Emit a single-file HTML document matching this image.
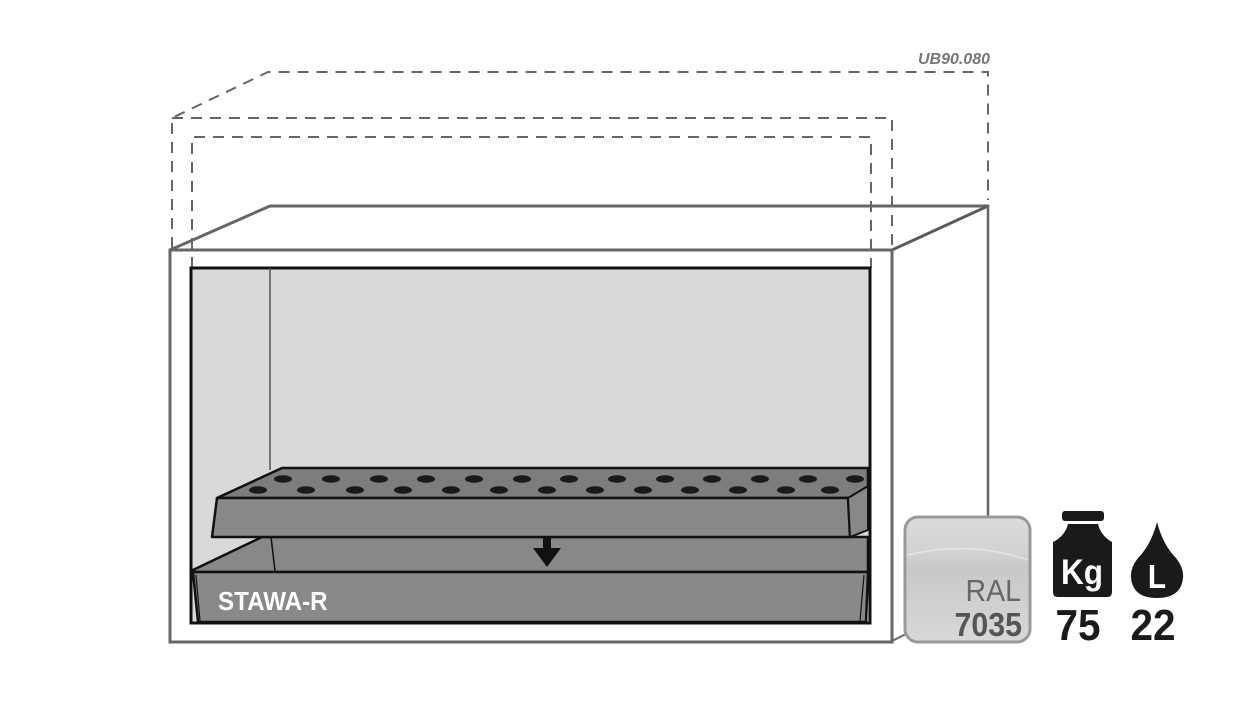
<!DOCTYPE html>
<html><head><meta charset="utf-8"><style>
html,body{margin:0;padding:0;background:#fff;width:1241px;height:711px;overflow:hidden}
svg{display:block}
text{font-family:"Liberation Sans",sans-serif}
</style></head><body>
<svg width="1241" height="711" viewBox="0 0 1241 711" xmlns="http://www.w3.org/2000/svg">
<defs>
<linearGradient id="ral" x1="0" y1="0" x2="0" y2="1">
<stop offset="0" stop-color="#dcdcdc"/><stop offset="0.3" stop-color="#d2d2d2"/><stop offset="0.4" stop-color="#c8c8c8"/><stop offset="1" stop-color="#d8d8d8"/>
</linearGradient>
</defs>
<polygon points="170,250 270,206 988,206 892,250" fill="#fff" stroke="#666" stroke-width="3" stroke-linejoin="round"/>
<line x1="892" y1="250" x2="988" y2="206" stroke="#555" stroke-width="1.5"/>
<line x1="988" y1="206" x2="988" y2="516" stroke="#666" stroke-width="2.5"/>
<line x1="892" y1="641" x2="906" y2="634" stroke="#666" stroke-width="2"/>
<rect x="170" y="250" width="722" height="392" fill="#fff" stroke="#666" stroke-width="3"/>
<g fill="none" stroke="#666" stroke-width="2" stroke-dasharray="11,8">
<polyline points="172,248 172,118 268,72 988,72 988,200"/>
<polyline points="172,118 892,118 892,250"/>
<polyline points="192,268 192,137 871,137 871,268"/>
</g>
<text x="990" y="64" text-anchor="end" font-size="16" font-weight="bold" font-style="italic" fill="#777">UB90.080</text>
<rect x="191" y="268" width="679" height="355" fill="#d9d9d9" stroke="#111" stroke-width="3"/>
<line x1="270" y1="268" x2="270" y2="470" stroke="#555" stroke-width="1.5"/>
<polygon points="193,570 262,537 868,537 868,572 193,572" fill="#888" stroke="#111" stroke-width="2.5" stroke-linejoin="round"/>
<line x1="271" y1="537" x2="275" y2="571" stroke="#111" stroke-width="1.5"/>
<polygon points="193,572 868,572 866,622 198,622" fill="#898989" stroke="#111" stroke-width="2.5" stroke-linejoin="round"/>
<line x1="196" y1="575" x2="200" y2="621" stroke="#111" stroke-width="1.2"/>
<line x1="864" y1="575" x2="860" y2="621" stroke="#111" stroke-width="1.2"/>
<text x="218" y="610" font-size="26" font-weight="bold" fill="#fff" transform="translate(218,610) scale(0.93,1) translate(-218,-610)">STAWA-R</text>
<rect x="543" y="537" width="8" height="12" fill="#111"/>
<polygon points="533,548 561,548 547,567" fill="#111"/>
<polygon points="217,498 282,468 868,468 868,498" fill="#7d7d7d" stroke="#111" stroke-width="2.5" stroke-linejoin="round"/>
<polygon points="217,498 848,498 850,537 212,537" fill="#888" stroke="#111" stroke-width="2.5" stroke-linejoin="round"/>
<polygon points="848,498 868,486 868,530 850,537" fill="#888" stroke="#111" stroke-width="2"/>
<g fill="#1a1a1a">
<ellipse cx="283" cy="479" rx="9" ry="3.8"/><ellipse cx="331" cy="479" rx="9" ry="3.8"/><ellipse cx="379" cy="479" rx="9" ry="3.8"/><ellipse cx="426" cy="479" rx="9" ry="3.8"/><ellipse cx="474" cy="479" rx="9" ry="3.8"/><ellipse cx="522" cy="479" rx="9" ry="3.8"/><ellipse cx="569" cy="479" rx="9" ry="3.8"/><ellipse cx="617" cy="479" rx="9" ry="3.8"/><ellipse cx="665" cy="479" rx="9" ry="3.8"/><ellipse cx="712" cy="479" rx="9" ry="3.8"/><ellipse cx="760" cy="479" rx="9" ry="3.8"/><ellipse cx="808" cy="479" rx="9" ry="3.8"/><ellipse cx="855" cy="479" rx="9" ry="3.8"/>
<ellipse cx="258" cy="490" rx="9" ry="3.8"/><ellipse cx="306" cy="490" rx="9" ry="3.8"/><ellipse cx="355" cy="490" rx="9" ry="3.8"/><ellipse cx="403" cy="490" rx="9" ry="3.8"/><ellipse cx="451" cy="490" rx="9" ry="3.8"/><ellipse cx="499" cy="490" rx="9" ry="3.8"/><ellipse cx="547" cy="490" rx="9" ry="3.8"/><ellipse cx="595" cy="490" rx="9" ry="3.8"/><ellipse cx="643" cy="490" rx="9" ry="3.8"/><ellipse cx="690" cy="490" rx="9" ry="3.8"/><ellipse cx="738" cy="490" rx="9" ry="3.8"/><ellipse cx="786" cy="490" rx="9" ry="3.8"/><ellipse cx="830" cy="490" rx="9" ry="3.8"/>
</g>
<rect x="905" y="517" width="125" height="125" rx="13" fill="url(#ral)" stroke="#999" stroke-width="3"/>
<path d="M907,555 Q970,540 1028,560" fill="none" stroke="#e4e4e4" stroke-width="1.5"/>
<text x="1021" y="601" text-anchor="end" font-size="31" fill="#666" transform="translate(1021,601) scale(0.92,1) translate(-1021,-601)">RAL</text>
<text x="1022" y="636" text-anchor="end" font-size="33" font-weight="bold" fill="#555" transform="translate(1022,636) scale(0.92,1) translate(-1022,-636)">7035</text>
<rect x="1062" y="511" width="42" height="10" rx="3" fill="#1a1a1a"/>
<path d="M1068,524 H1098 Q1101,536 1112,542 V592 Q1112,597 1107,597 H1058 Q1053,597 1053,592 V542 Q1065,536 1068,524 Z" fill="#1a1a1a"/>
<text x="1082" y="584" text-anchor="middle" font-size="35" font-weight="bold" fill="#fff" transform="translate(1082,584) scale(0.9,1) translate(-1082,-584)">Kg</text>
<text x="1078" y="640" text-anchor="middle" font-size="44" font-weight="bold" fill="#1a1a1a" transform="translate(1078,640) scale(0.92,1) translate(-1078,-640)">75</text>
<path d="M1157,522 Q1163,545 1176,558 Q1184,568 1183,578 Q1181,598 1157,598 Q1133,598 1131,578 Q1130,568 1138,558 Q1151,545 1157,522 Z" fill="#1a1a1a"/>
<text x="1157" y="588" text-anchor="middle" font-size="33" font-weight="bold" fill="#fff" transform="translate(1157,588) scale(0.9,1) translate(-1157,-588)">L</text>
<text x="1153" y="640" text-anchor="middle" font-size="44" font-weight="bold" fill="#1a1a1a" transform="translate(1153,640) scale(0.92,1) translate(-1153,-640)">22</text>
</svg>
</body></html>
